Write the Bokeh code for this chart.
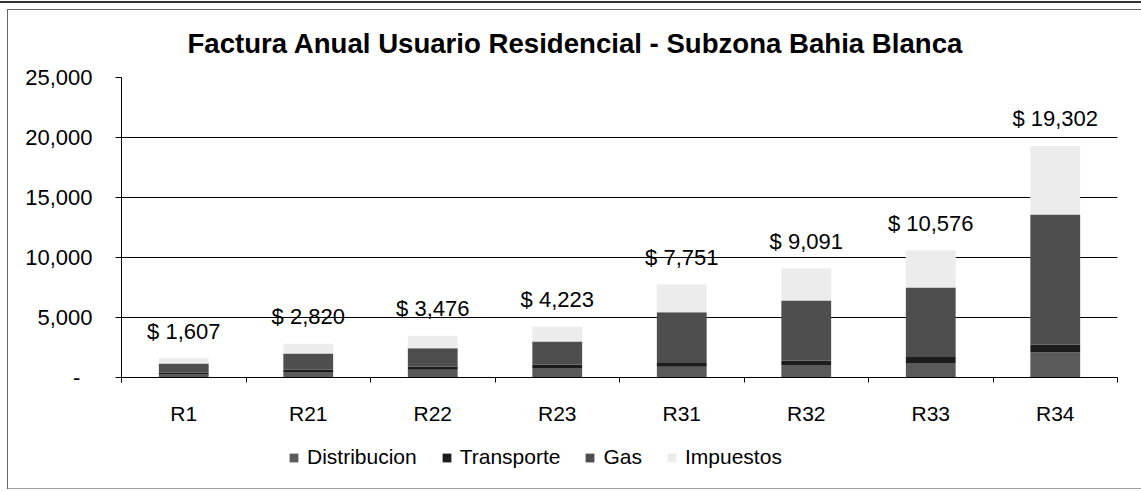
from bokeh.plotting import figure
from bokeh.layouts import column
from bokeh.models import (ColumnDataSource, Range1d, FixedTicker, LinearAxis,
                          Legend, LegendItem, NumeralTickFormatter)
from bokeh.core.properties import value
from bokeh.embed import file_html
from bokeh.resources import INLINE

# ---- data ----
categorias = ["R1", "R21", "R22", "R23", "R31", "R32", "R33", "R34"]
distribucion = [250, 450, 650, 800, 900, 1050, 1200, 2100]
transporte = [150, 200, 250, 280, 300, 350, 500, 650]
gas = [767, 1350, 1540, 1920, 4240, 5017, 5800, 10833]
totales = [1607, 2820, 3476, 4223, 7751, 9091, 10576, 19302]
impuestos = [t - d - tr - g for t, d, tr, g in zip(totales, distribucion, transporte, gas)]
series = ["Distribucion", "Transporte", "Gas", "Impuestos"]
y_ticks = [0, 5000, 10000, 15000, 20000, 25000]
titulo = "Factura Anual Usuario Residencial - Subzona Bahia Blanca"

FONT = "Liberation Sans"
colores = ["#5a5a5a", "#1c1c1c", "#4e4e4e", "#ececec"]

n = len(categorias)
centros = [i + 0.5 for i in range(n)]
limites = list(range(n + 1))

src = ColumnDataSource(dict(
    x=centros,
    cat=categorias,
    Distribucion=distribucion,
    Transporte=transporte,
    Gas=gas,
    Impuestos=impuestos,
    total=totales,
    etiqueta=["$ {:,}".format(t) for t in totales],
))

W = 1141
H_MAIN = 435
H_LEG = 56

p = figure(x_range=Range1d(0, n), y_range=Range1d(0, 25000), width=W, height=H_MAIN,
           output_backend="svg", toolbar_location=None, x_axis_location=None,
           min_border_left=121, min_border_right=24, min_border_top=77, min_border_bottom=58)
p.outline_line_color = None
p.background_fill_color = "white"
p.border_fill_alpha = 0

# title
p.title.text = titulo
p.title.align = "left"
p.title.offset = 66
p.title.standoff = 37
p.title.text_font = FONT
p.title.text_font_size = "27.6px"
p.title.text_font_style = "bold"
p.title.text_color = "black"

# bars
rs = p.vbar_stack(series, x="x", width=0.4, color=colores, line_color=None, source=src)

# value labels
p.text(x="x", y="total", text="etiqueta", source=src, text_align="center",
       text_baseline="alphabetic", y_offset=-27, text_font=value(FONT),
       text_font_size="22px", text_color="black")

# y axis
ya = p.yaxis[0]
ya.ticker = FixedTicker(ticks=y_ticks)
ya.formatter = NumeralTickFormatter(format="0,0")
ya.major_label_overrides = {0: "-\u2007"}
ya.major_label_text_font = FONT
ya.major_label_text_font_size = "22px"
ya.major_label_text_color = "black"
ya.major_label_standoff = 23
ya.major_tick_out = 6
ya.major_tick_in = 0
ya.minor_tick_out = 0
ya.minor_tick_in = 0
ya.axis_line_color = "black"
ya.major_tick_line_color = "black"

p.ygrid.grid_line_color = "black"
p.ygrid.grid_line_alpha = 1.0
p.ygrid.ticker = FixedTicker(ticks=y_ticks)
p.xgrid.grid_line_color = None

# x axis: labels at bar centres, tick marks at category boundaries
xa = LinearAxis(ticker=FixedTicker(ticks=centros, minor_ticks=limites),
                major_label_overrides={c: k for c, k in zip(centros, categorias)},
                axis_line_color="black", major_tick_line_color=None,
                major_tick_out=0, major_tick_in=0,
                minor_tick_line_color="black", minor_tick_out=5, minor_tick_in=0,
                major_label_text_font=FONT, major_label_text_font_size="21px",
                major_label_text_color="black", major_label_standoff=19)
p.add_layout(xa, "below")

# legend strip (swatches styled like the stacked bars; zero-height, nothing drawn)
lf = figure(width=W, height=H_LEG, output_backend="svg", toolbar_location=None,
            x_range=Range1d(0, 1), y_range=Range1d(0, 1),
            x_axis_location=None, y_axis_location=None,
            min_border_left=0, min_border_right=0, min_border_top=0, min_border_bottom=0)
lf.outline_line_color = None
lf.background_fill_alpha = 0
lf.border_fill_alpha = 0
lf.grid.grid_line_color = None
swatch_src = ColumnDataSource(dict(x=[0.5], top=[0], bottom=[0]))
swatches = [lf.vbar(x="x", top="top", bottom="bottom", width=0.01, fill_color=c,
                    line_color=None, source=swatch_src)
            for c in colores]
legend = Legend(items=[LegendItem(label=s, renderers=[r]) for s, r in zip(series, swatches)],
                location=(167, 22), orientation="horizontal", padding=0, margin=0,
                spacing=24, glyph_width=11, glyph_height=11, label_standoff=8,
                label_text_font=FONT, label_text_font_size="21px", label_text_color="black",
                border_line_color=None, background_fill_alpha=0)
lf.add_layout(legend, "center")

lay = column(p, lf, spacing=0)
lay.styles = {
    "background-color": "white",
    "background-image": ("linear-gradient(#333333,#333333), linear-gradient(#666666,#666666), "
                         "linear-gradient(#666666,#666666), linear-gradient(#a0a0a0,#a0a0a0)"),
    "background-size": "1141px 2px, 1134px 1px, 1px 480px, 1134px 1px",
    "background-position": "0px 1px, 7px 9px, 7px 9px, 7px 488px",
    "background-repeat": "no-repeat",
}

open("out.html", "w").write(file_html(lay, INLINE))
